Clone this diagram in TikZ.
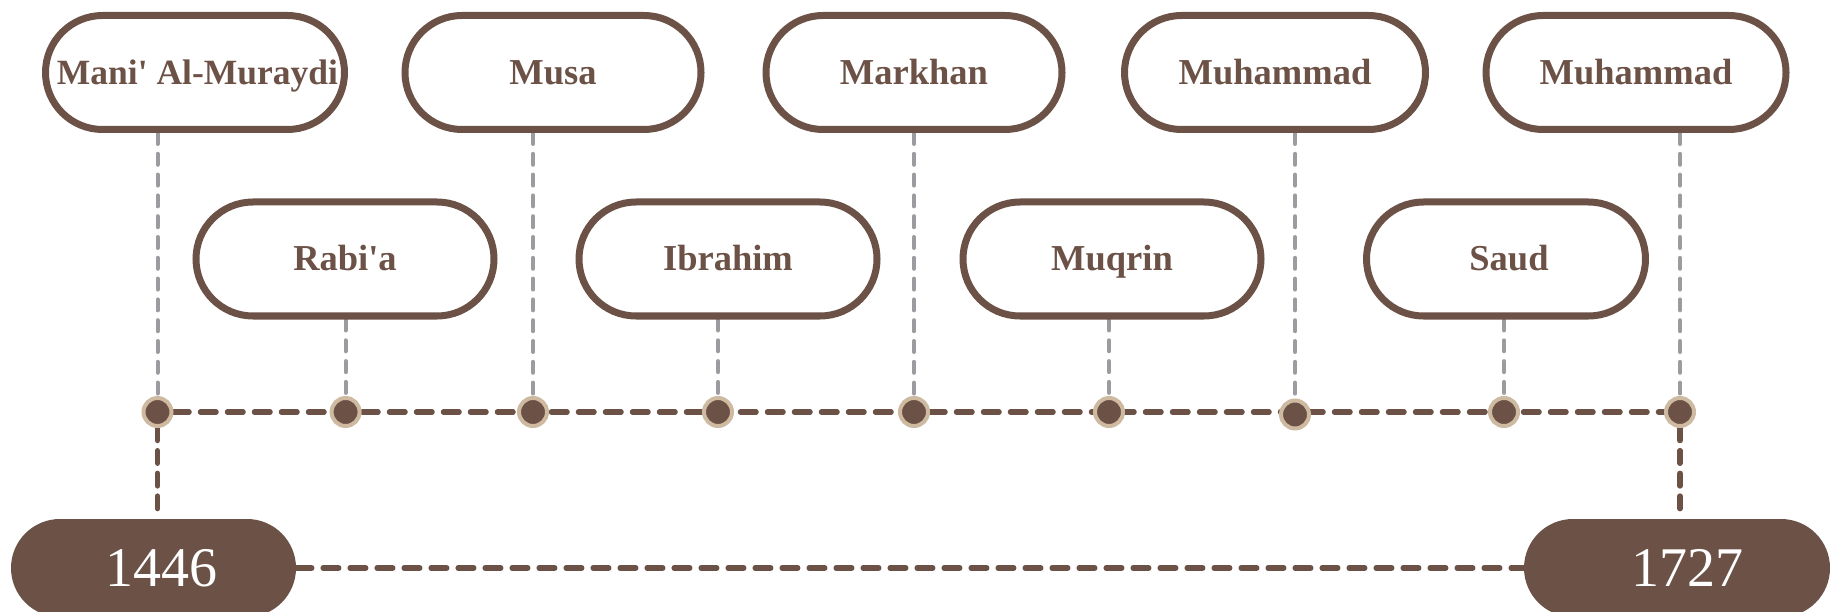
\documentclass[tikz,border=0pt]{standalone}
\usepackage{fontspec}
\newfontfamily\lblfont{Liberation Serif}[Ligatures=TeXOff]
\usetikzlibrary{backgrounds}
\definecolor{brn}{RGB}{108,81,70}
\definecolor{dottan}{RGB}{206,186,160}
\definecolor{grayline}{RGB}{155,155,160}
\tikzset{
  namebox/.style={draw=brn, line width=7pt, fill=white, rounded corners=57pt,
    minimum height=114pt, inner sep=0pt, text=brn,
    font=\lblfont\bfseries\fontsize{36.5}{40}\selectfont, text height=24pt, text depth=0pt},
  yearbox/.style={fill=brn, rounded corners=49pt, minimum height=98pt, inner sep=0pt,
    text=white, font=\lblfont\fontsize{56}{60}\selectfont, text height=37pt, text depth=0pt},
  tdot/.style={circle, fill=brn, draw=dottan, line width=4pt, minimum size=28pt, inner sep=0pt},
  gline/.style={draw=grayline, line width=4pt, line cap=round, dash pattern=on 11pt off 9.8pt},
  bhline/.style={draw=brn, line width=5.5pt, line cap=round, dash pattern=on 15.5pt off 11.5pt},
  bvline/.style={draw=brn, line width=5.5pt, line cap=round, dash pattern=on 12.5pt off 10.2pt}
}
\begin{document}
\begin{tikzpicture}[x=1pt,y=-1pt]
\useasboundingbox (0,0) rectangle (1831,612);
% name boxes
\node[namebox, minimum width=299pt] (b1) at (195,72.5) {\hspace*{5pt}\fontsize{35.5}{40}\selectfont Mani' Al-Muraydi};
\node[namebox, minimum width=296pt] (b2) at (553,72.5) {Musa};
\node[namebox, minimum width=296pt] (b3) at (914,72.5) {Markhan};
\node[namebox, minimum width=301pt] (b4) at (1275,72.5) {Muhammad};
\node[namebox, minimum width=300pt] (b5) at (1636,72.5) {Muhammad};
\node[namebox, minimum width=298pt] (b6) at (345,259) {Rabi'a};
\node[namebox, minimum width=298pt] (b7) at (728,259) {Ibrahim};
\node[namebox, minimum width=298pt] (b8) at (1112,259) {Muqrin};
\node[namebox, minimum width=279pt] (b9) at (1506,259) {\hspace*{6pt}Saud};
% dots
\node[tdot] (d1) at (157.5,412) {};
\node[tdot] (d2) at (345.6,412) {};
\node[tdot] (d3) at (533,412) {};
\node[tdot] (d4) at (718,412) {};
\node[tdot] (d5) at (914,412) {};
\node[tdot] (d6) at (1109,412) {};
\node[tdot] (d7) at (1295,414.5) {};
\node[tdot] (d8) at (1504,412) {};
\node[tdot] (d9) at (1680,412) {};
% year boxes
\node[yearbox, minimum width=285pt] (y1) at (153.5,568) {\hspace*{16pt}1446};
\node[yearbox, minimum width=306pt] (y2) at (1677,568) {\hspace*{20pt}1727};
\begin{scope}[on background layer]
  \draw[gline] (d1 |- b1.south) -- (d1.north);
  \draw[gline] (d2 |- b6.south) -- (d2.north);
  \draw[gline] (d3 |- b2.south) -- (d3.north);
  \draw[gline] (d4 |- b7.south) -- (d4.north);
  \draw[gline] (d5 |- b3.south) -- (d5.north);
  \draw[gline] (d6 |- b8.south) -- (d6.north);
  \draw[gline] (d7 |- b4.south) -- (d7.north);
  \draw[gline] (d8 |- b9.south) -- (d8.north);
  \draw[gline] (d9 |- b5.south) -- (d9.north);
  \draw[bhline] (d1) -- (d1 -| d9);
  \draw[bvline] (d1.south) -- (d1 |- y1.north);
  \draw[bvline] (d9.south) -- (d9 |- y2.north);
  \draw[bhline] (y1.east) -- (y1.east -| y2.west);
\end{scope}
\end{tikzpicture}
\end{document}
